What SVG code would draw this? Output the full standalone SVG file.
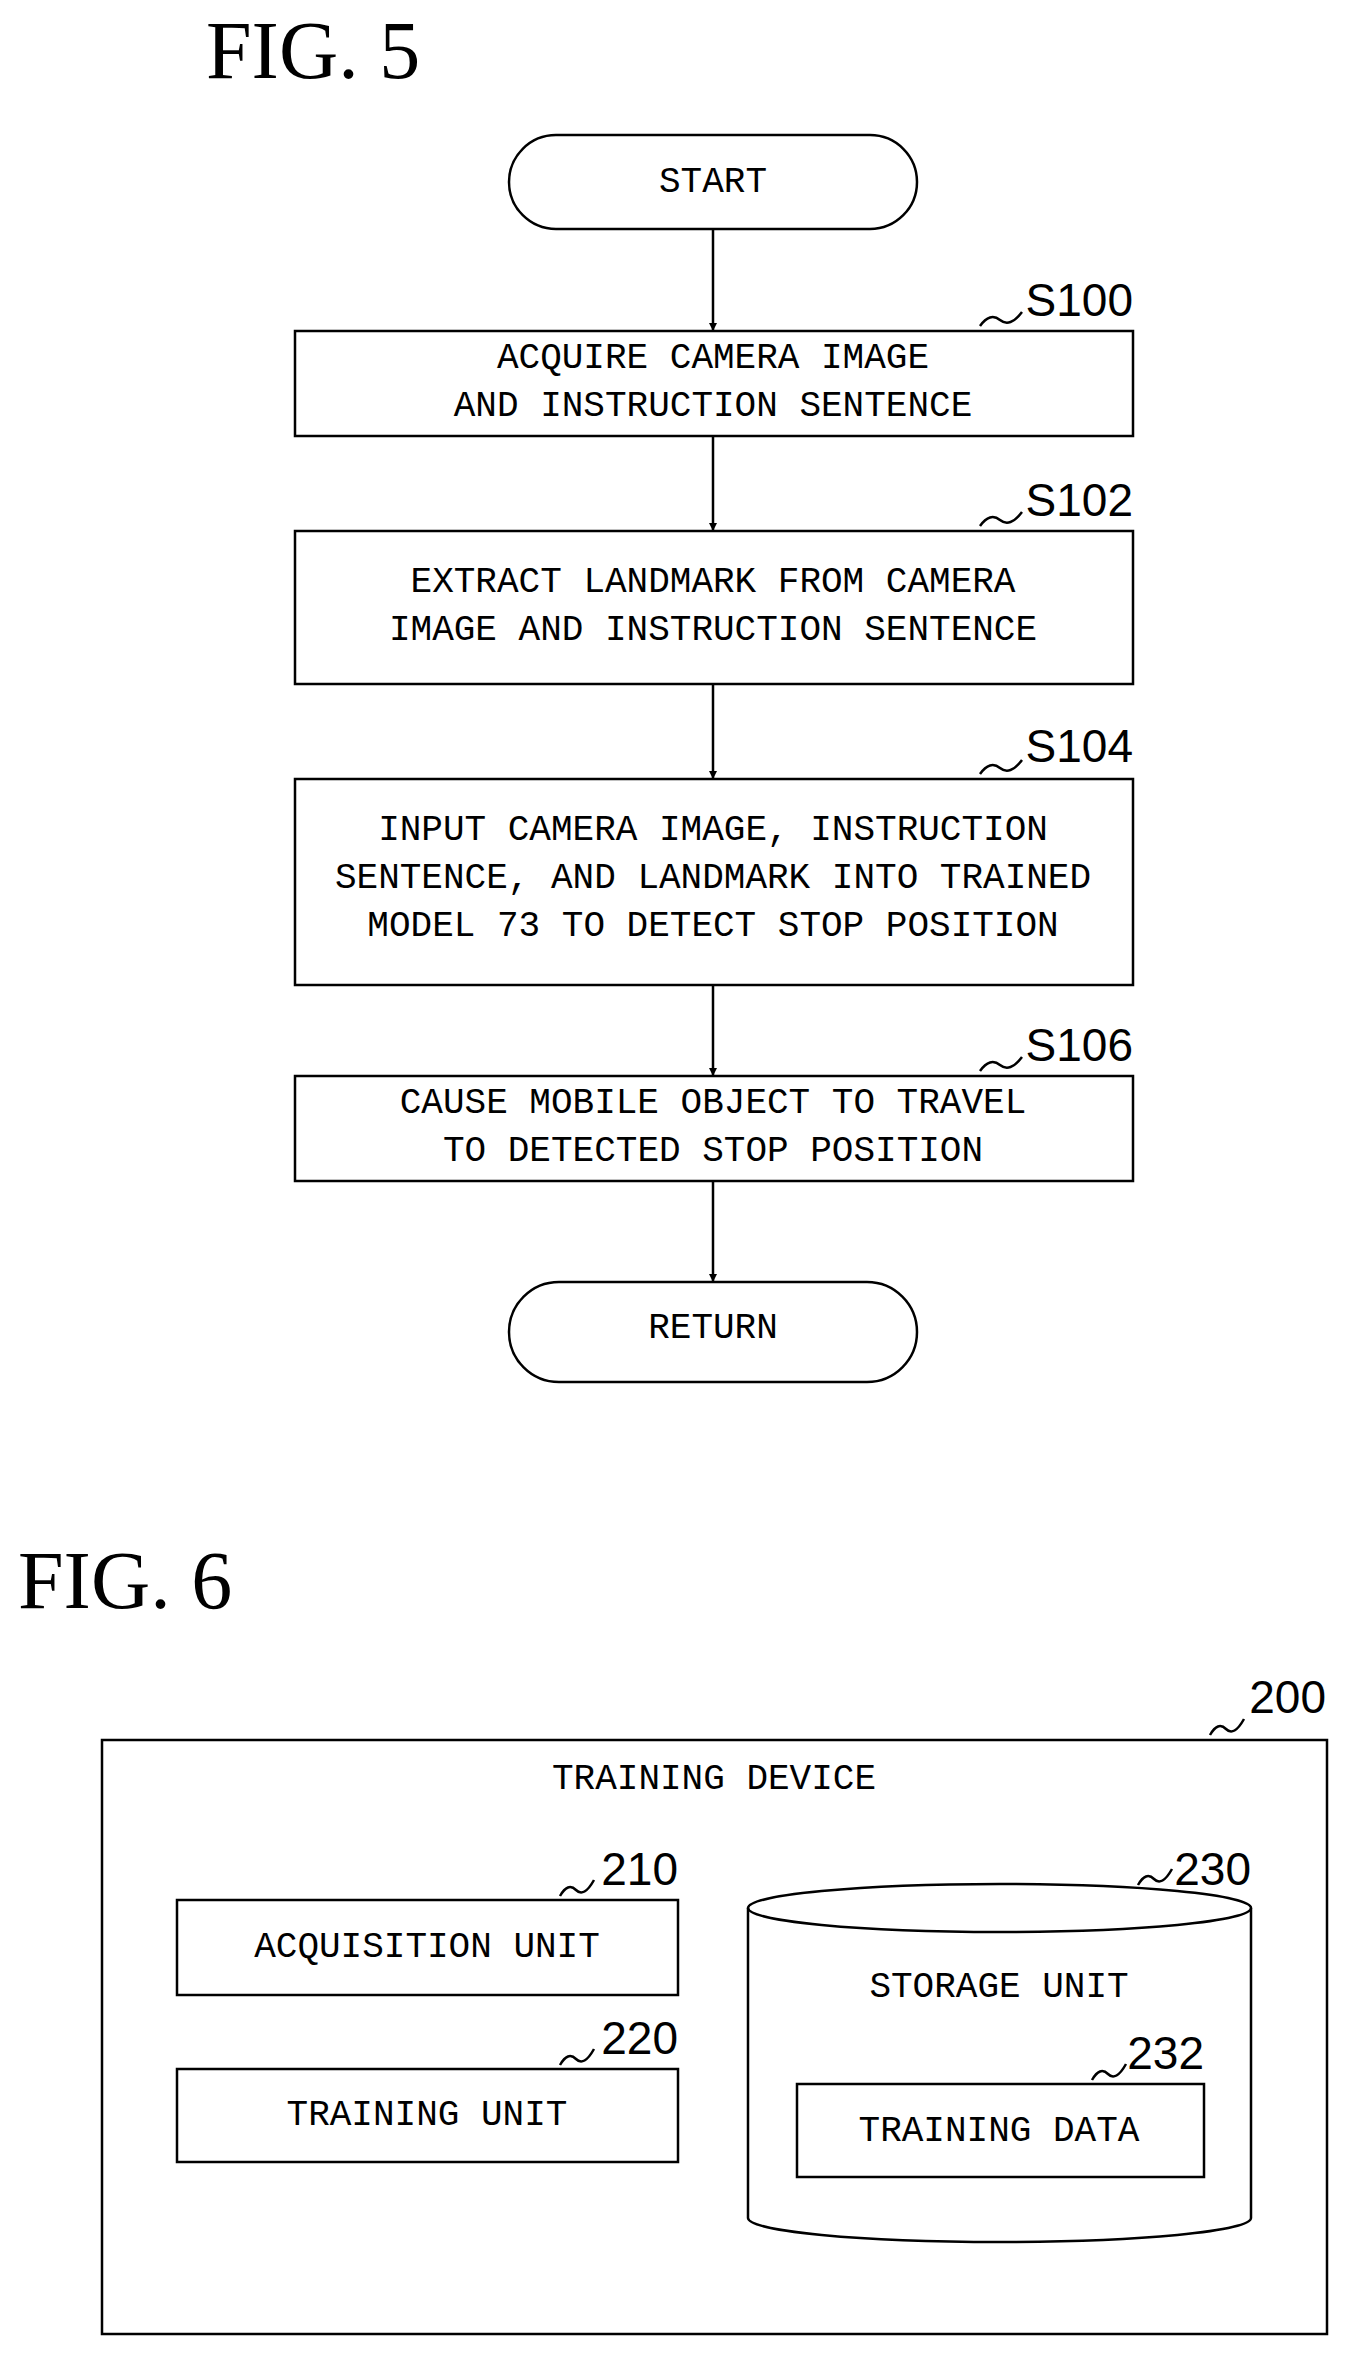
<svg xmlns="http://www.w3.org/2000/svg" width="1354" height="2360" viewBox="0 0 1354 2360">
<style>
.b{fill:#fff;stroke:#000;stroke-width:2.5}
.t{font-family:"Liberation Mono",monospace;font-size:36px;text-anchor:middle;dominant-baseline:central;fill:#000}
.l{font-family:"Liberation Sans",sans-serif;font-size:46px;text-anchor:end;fill:#000}
.f{font-family:"Liberation Serif",serif;font-size:82px;fill:#000}
.c{fill:none;stroke:#000;stroke-width:2.5}
</style>
<defs><marker id="a" viewBox="0 0 10 10" refX="10" refY="5" markerWidth="8" markerHeight="8" orient="auto" markerUnits="userSpaceOnUse"><path d="M0,0L10,5L0,10z" fill="#000"/></marker></defs>
<text class="f" x="206" y="78">FIG. 5</text>
<g id="connectors">
<line class="c" x1="713" y1="229" x2="713" y2="331" marker-end="url(#a)"/>
<line class="c" x1="713" y1="436" x2="713" y2="531" marker-end="url(#a)"/>
<line class="c" x1="713" y1="684" x2="713" y2="779" marker-end="url(#a)"/>
<line class="c" x1="713" y1="985" x2="713" y2="1076" marker-end="url(#a)"/>
<line class="c" x1="713" y1="1181" x2="713" y2="1282" marker-end="url(#a)"/>
</g>
<g id="start"><rect class="b" x="509" y="135" width="408" height="94" rx="47"/><text class="t" x="713" y="182">START</text></g>
<g id="s100"><rect class="b" x="295" y="331" width="838" height="105"/><text class="t" x="713" y="358">ACQUIRE CAMERA IMAGE</text><text class="t" x="713" y="406">AND INSTRUCTION SENTENCE</text>
<path class="c" d="M980,326 q10,-14 20,-6 t22,-8"/><text class="l" x="1133" y="316">S100</text></g>
<g id="s102"><rect class="b" x="295" y="531" width="838" height="153"/><text class="t" x="713" y="582">EXTRACT LANDMARK FROM CAMERA</text><text class="t" x="713" y="630">IMAGE AND INSTRUCTION SENTENCE</text>
<path class="c" d="M980,526 q10,-14 20,-6 t22,-8"/><text class="l" x="1133" y="516">S102</text></g>
<g id="s104"><rect class="b" x="295" y="779" width="838" height="206"/><text class="t" x="713" y="830">INPUT CAMERA IMAGE, INSTRUCTION</text><text class="t" x="713" y="878">SENTENCE, AND LANDMARK INTO TRAINED</text><text class="t" x="713" y="926">MODEL 73 TO DETECT STOP POSITION</text>
<path class="c" d="M980,774 q10,-14 20,-6 t22,-8"/><text class="l" x="1133" y="762">S104</text></g>
<g id="s106"><rect class="b" x="295" y="1076" width="838" height="105"/><text class="t" x="713" y="1103">CAUSE MOBILE OBJECT TO TRAVEL</text><text class="t" x="713" y="1151">TO DETECTED STOP POSITION</text>
<path class="c" d="M980,1071 q10,-14 20,-6 t22,-8"/><text class="l" x="1133" y="1061">S106</text></g>
<g id="return"><rect class="b" x="509" y="1282" width="408" height="100" rx="50"/><text class="t" x="713" y="1328">RETURN</text></g>

<text class="f" x="18" y="1608">FIG. 6</text>
<g id="n200"><rect class="b" x="102" y="1740" width="1225" height="594"/><text class="t" x="714" y="1779">TRAINING DEVICE</text>
<path class="c" d="M1210,1735 q8,-14 16,-6 t18,-10"/><text class="l" x="1326" y="1713">200</text></g>
<g id="n210"><rect class="b" x="177" y="1900" width="501" height="95"/><text class="t" x="427" y="1947">ACQUISITION UNIT</text>
<path class="c" d="M560,1896 q8,-14 16,-6 t18,-10"/><text class="l" x="678" y="1885">210</text></g>
<g id="n220"><rect class="b" x="177" y="2069" width="501" height="93"/><text class="t" x="427" y="2115">TRAINING UNIT</text>
<path class="c" d="M560,2065 q8,-14 16,-6 t18,-10"/><text class="l" x="678" y="2054">220</text></g>
<g id="n230"><path class="b" d="M748,1908 A251.5,24 0 0 1 1251,1908 L1251,2218 A251.5,24 0 0 1 748,2218 Z"/><path class="c" d="M748,1908 A251.5,24 0 0 0 1251,1908"/><text class="t" x="999" y="1987">STORAGE UNIT</text>
<path class="c" d="M1138,1885 q8,-14 16,-6 t18,-10"/><text class="l" x="1251" y="1885">230</text></g>
<g id="n232"><rect class="b" x="797" y="2084" width="407" height="93"/><text class="t" x="999" y="2131">TRAINING DATA</text>
<path class="c" d="M1092,2080 q8,-14 16,-6 t18,-10"/><text class="l" x="1204" y="2069">232</text></g>
</svg>
